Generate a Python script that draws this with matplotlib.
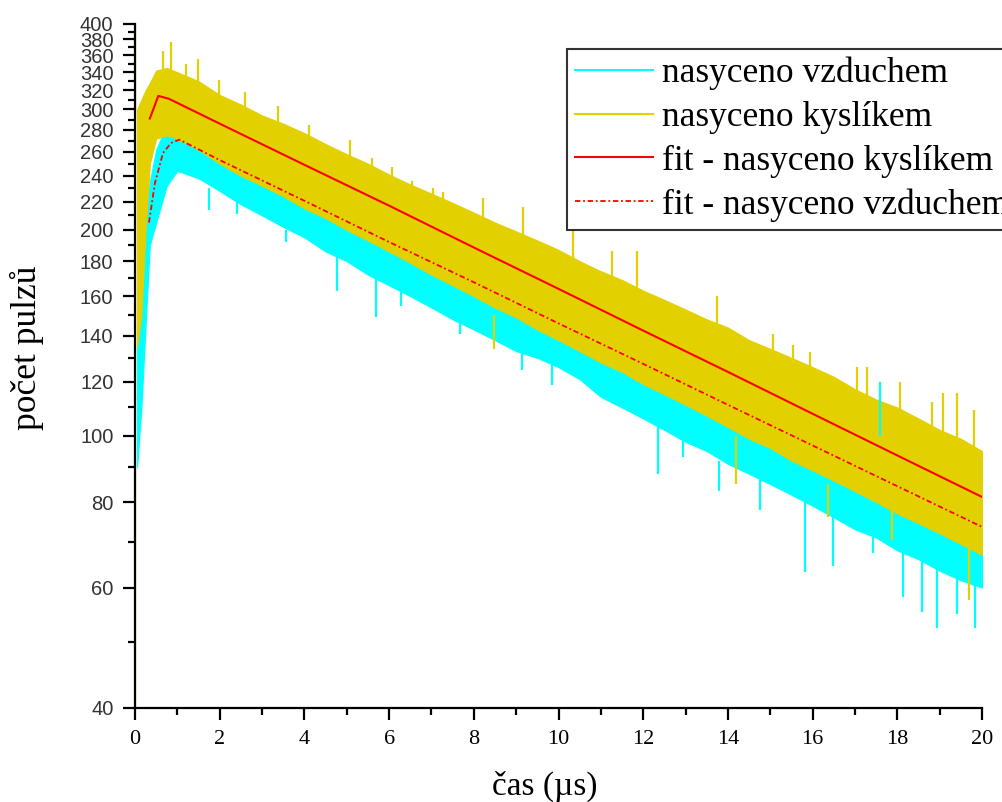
import matplotlib
matplotlib.use("Agg")
import matplotlib.pyplot as plt
from matplotlib.ticker import FixedLocator, FixedFormatter, NullFormatter

# envelope of the noisy traces (time in us, counts)
t_env = [0.05, 0.15, 0.25, 0.35, 0.5, 0.75, 1.0, 1.5, 2.0, 2.5, 3.0, 3.5, 4.0,
         4.5, 5.0, 5.5, 6.0, 6.5, 7.0, 7.5, 8.0, 8.5, 9.0, 9.5, 10.0, 10.5,
         11.0, 11.5, 12.0, 12.5, 13.0, 13.5, 14.0, 14.5, 15.0, 15.5, 16.0,
         16.5, 17.0, 17.5, 18.0, 18.5, 19.0, 19.5, 20.0]

o2_hi = [300, 310, 320, 328, 342, 345, 340, 330, 315, 305, 294, 286, 277, 267,
         258, 250, 241, 233, 226, 219, 212, 205, 199, 193, 187, 180, 174, 169,
         163, 158, 153, 148, 144, 138, 134, 130, 126, 122, 117, 113, 110, 106,
         102, 99, 95]
o2_lo = [135, 150, 200, 250, 272, 275, 272, 262, 250, 240, 232, 224, 215, 208,
         200, 193, 186, 179, 172, 166, 160, 154, 149, 143, 138, 133, 128, 124,
         119, 115, 111, 107, 103, 99, 96, 92, 89, 86, 83, 80, 77, 74.5, 72,
         69.5, 67]
air_hi = [140, 175, 210, 235, 262, 285, 290, 282, 272, 264, 255, 246, 238, 231,
          224, 216, 209, 203, 196, 190, 184, 178, 172, 167, 162, 156, 151, 146,
          142, 137, 133, 129, 125, 121, 117, 114, 110, 107, 103, 100, 97, 94,
          91, 88, 85]
air_lo = [90, 110, 145, 190, 205, 232, 244, 238, 228, 218, 210, 202, 195, 186,
          180, 172, 166, 160, 154, 148, 143, 138, 133, 130, 126, 121, 114, 110,
          106, 102, 98, 95, 91, 88, 85, 82, 79, 76, 73, 71, 68, 66, 63.5, 61.5,
          60]

# single spikes sticking out of the bands: (t, base, tip)
o2_spikes = [(0.0, 38, 410), (0.65, 330, 365), (0.85, 330, 376), (1.2, 320, 350),
             (1.49, 320, 356), (1.98, 300, 331), (2.6, 290, 318),
             (3.38, 280, 304), (4.1, 265, 285), (5.08, 250, 271),
             (5.6, 240, 255), (6.06, 225, 247), (6.53, 215, 236),
             (7.04, 210, 230), (7.28, 205, 227.6), (8.22, 200, 223),
             (9.16, 190, 216), (10.35, 175, 200), (11.26, 165, 186),
             (11.85, 160, 186), (13.74, 140, 160), (15.07, 125, 141),
             (15.54, 122, 135.8), (15.94, 120, 132.7), (17.05, 110, 126),
             (17.28, 110, 126), (18.06, 105, 120), (18.81, 100, 112),
             (19.08, 100, 115.5), (19.4, 98, 115.5), (19.8, 95, 109),
             (8.48, 150, 134), (14.2, 100, 85), (16.37, 85, 76),
             (17.87, 78, 70.4), (19.7, 70, 57.5)]
air_spikes = [(1.75, 230, 214), (2.41, 225, 211), (3.56, 200, 192),
              (4.76, 185, 163), (5.7, 170, 149), (6.28, 165, 155),
              (7.67, 148, 141), (9.13, 135, 125), (9.85, 128, 118.5),
              (12.35, 105, 88), (12.94, 100, 93), (13.8, 92, 83),
              (14.76, 88, 78), (15.82, 80, 63.3), (16.49, 77, 64.5),
              (17.43, 72, 67.4), (18.14, 68, 58.2), (18.58, 66, 55.3),
              (18.93, 65, 52.3), (19.4, 63, 54.8), (19.83, 62, 52.3),
              (17.6, 100, 120)]

# fitted curves
fit_o2_t = [0.35, 0.55, 0.8, 2, 4, 6, 8, 10, 12, 14, 16, 18, 20]
fit_o2 = [291, 314, 311, 286, 249, 217, 188.5, 164, 142.5, 124, 107.7, 93.6, 81.4]
fit_air_t = [0.33, 0.47, 0.66, 0.85, 1.05, 2, 4, 6, 8, 10, 12, 14, 16, 18, 20]
fit_air = [205, 234, 259, 268, 271, 253, 220.6, 192, 167.7, 146, 127.4, 111,
           96.8, 84.4, 73.6]

y_major = list(range(40, 401, 20))
y_minor = list(range(50, 400, 20))

CYAN = "#00ffff"
YELLOW = "#e3d000"
RED = "#ff0000"

plt.rcParams["font.family"] = ["Liberation Serif", "DejaVu Serif"]

fig = plt.figure(figsize=(10.03, 8.02), dpi=100)
ax = fig.add_axes([135 / 1003, 94 / 802, 847 / 1003, 684 / 802])

ax.fill_between(t_env, air_lo, air_hi, color=CYAN, lw=0.8)
ax.vlines([s[0] for s in air_spikes], [s[1] for s in air_spikes],
          [s[2] for s in air_spikes], color=CYAN, lw=1.6)
ax.fill_between(t_env, o2_lo, o2_hi, color=YELLOW, lw=0.8)
ax.vlines([s[0] for s in o2_spikes], [s[1] for s in o2_spikes],
          [s[2] for s in o2_spikes], color=YELLOW, lw=1.6)

# proxies for the legend
ax.plot([], [], color=CYAN, lw=1.5, label="nasyceno vzduchem")
ax.plot([], [], color=YELLOW, lw=1.5, label="nasyceno kyslíkem")
ax.plot(fit_o2_t, fit_o2, color=RED, lw=1.5, label="fit - nasyceno kyslíkem")
ax.plot(fit_air_t, fit_air, color=RED, lw=1.3, ls=(0, (3, 1.5, 1, 1.5)),
        label="fit - nasyceno vzduchem")

ax.set_yscale("log")
ax.set_xlim(0, 20)
ax.set_ylim(40, 400)
ax.yaxis.set_major_locator(FixedLocator(y_major))
ax.yaxis.set_major_formatter(FixedFormatter([str(v) for v in y_major]))
ax.yaxis.set_minor_locator(FixedLocator(y_minor))
ax.yaxis.set_minor_formatter(NullFormatter())
ax.set_xticks(range(0, 21, 2))
ax.set_xticks(range(1, 20, 2), minor=True)

for side in ("top", "right"):
    ax.spines[side].set_visible(False)
for side in ("left", "bottom"):
    ax.spines[side].set_linewidth(1.6)

ax.tick_params(which="major", direction="out", length=8.5, width=1.6)
ax.tick_params(which="minor", direction="out", length=5, width=1.6)
ax.tick_params(axis="x", labelsize=16, pad=7)
ax.tick_params(axis="y", labelsize=14.5, pad=7)
for lab in ax.get_yticklabels():
    lab.set_family("Liberation Sans")
    lab.set_color("#333333")

ax.set_xlabel("čas (µs)", fontsize=24)
ax.xaxis.set_label_coords(0.484, -0.092)
ax.set_ylabel("počet pulzů", fontsize=25.5)
ax.yaxis.set_label_coords(-0.108, 0.526)

leg = ax.legend(loc="upper left", bbox_to_anchor=(567 / 1003, 1 - 49 / 802),
                bbox_transform=fig.transFigure, fontsize=25.5, frameon=True,
                fancybox=False, edgecolor="black", borderaxespad=0,
                handlelength=2.2, handletextpad=0.25, labelspacing=0.3,
                borderpad=0.22)
leg.get_frame().set_linewidth(1.5)

fig.savefig("out.png", dpi=100)
